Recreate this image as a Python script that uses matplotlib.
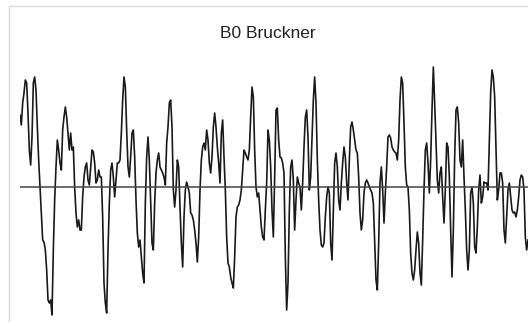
import matplotlib
matplotlib.use('Agg')
import matplotlib.pyplot as plt
from matplotlib.patches import Rectangle
import numpy as np

plt.rcParams['font.family'] = ['Liberation Sans', 'DejaVu Sans']

titulo = 'B0 Bruckner'

# amplitude, em quatro trechos da esquerda para a direita
trecho_1 = [72, 62, 84, 94, 107, 104, 74, 37, 22, 50, 104, 110, 97, 60, 27, 0, -26, -53, -55, -63,
            -83, -113, -116, -113, -128, -63, -13, 20, 47, 37, 24, 17, 57, 70, 80, 70, 54, 37, 54, 37,
            40, 0, -26, -40, -33, -43, -43, -10, 10, 20, 24, 7, 2, 20, 37, 35, 24, 4, 7, 17,
            10, 10, -30, -96, -116, -126, -63, -16, 17, 24, 10, -10, 7, 24, 24, 27, 54, 87, 110, 100,
            57, 20, 10, 30, 54, 57, 30]
trecho_2 = [-13, -46, -60, -53, -70, -86, -96, -16, 30, 50, 27, -16, -56, -63, -16, 14, 27, 34, 20, 17,
            14, 10, 2, 44, 60, 84, 87, 60, -3, -20, -3, 27, 20, -20, -56, -80, -30, -3, 5, 0,
            -6, -26, -28, -33, -43, -56, -75, -50, -3, 27, 40, 44, 37, 57, 47, 24, 14, 30, 60, 74,
            60, 40, 24, 4, 54, 67, 30, -3, -50, -76, -80, -90, -96, -101, -70, -30, -20, -18, -13, -3,
            17, 37, 34, 30, 27, 37, 70, 100, 90, 37, 0, -10, -6, -23, -40, -50, -53, -23]
trecho_3 = [4, 57, 47, 20, -23, -50, 10, 77, 79, 47, 30, 29, 24, 14, -70, -123, -96, -23, 20, 27,
            7, -43, -13, 10, 4, 0, -23, 4, 40, 70, 77, 50, -3, 10, 47, 87, 110, 84, 27, -13,
            -43, -58, -60, -56, -30, -10, 0, -6, -56, -73, -23, 24, 34, 20, -13, -23, 4, 24, 40, 30,
            4, -13, 27, 60, 65, 57, 47, 37, 34, 10, -26, -43, -33, -6, 4, 7, 4, 0, -3, -6,
            -16, -53, -93, -103, -56, 4, 20, -3, -36, -6, 20, 50, 52, 49, 40, 37, 35]
trecho_4 = [34, 27, 47, 87, 110, 104, 64, 20, 2, 0, -23, -66, -86, -93, -83, -63, -45, -56, -86, -98,
            -53, -3, 37, 44, 24, -6, 27, 77, 120, 84, 44, 7, -6, 14, 20, -10, -36, -3, 44, 40,
            10, -43, -90, -43, 30, 77, 80, 64, 27, 20, 47, 10, -23, -63, -83, -63, -6, 0, -16, -60,
            -66, -40, -3, 12, -16, -10, 5, 4, 4, -3, 44, 94, 117, 110, 90, 37, -13, -3, 14, 14,
            4, -43, -56, -30, -3, 4, -10, -23, -26, -25, -30, -23, -10, 7, 12, 10, -3, -50, -63, -53]


def grafico_onda():
    valores = np.array(trecho_1 + trecho_2 + trecho_3 + trecho_4)
    n = len(valores)

    fig = plt.figure(figsize=(5.28, 3.22), dpi=100)
    fig.patch.set_facecolor('white')

    # moldura cinza clara (so aparecem os lados esquerdo e de cima)
    fig.add_artist(Rectangle((9 / 528, -0.1), 1.0, 1 - 6 / 322 + 0.1, fill=False,
                             edgecolor='#d9d9d9', linewidth=1.0, transform=fig.transFigure))

    ax = fig.add_axes([20 / 528, 0, 508 / 528, 1])
    ax.plot(np.arange(n), valores, color='#1a1a1a', linewidth=1.2)
    ax.axhline(0, color='#444444', linewidth=1.1)
    ax.set_xlim(0, n - 1)
    ax.set_ylim(-135, 187)
    ax.axis('off')

    fig.text(268 / 528, 1 - 33 / 322, titulo, ha='center', va='center',
             fontsize=12.5, color='#222222')

    plt.savefig('out.png', dpi=100)
    plt.close()


if __name__ == '__main__':
    grafico_onda()
